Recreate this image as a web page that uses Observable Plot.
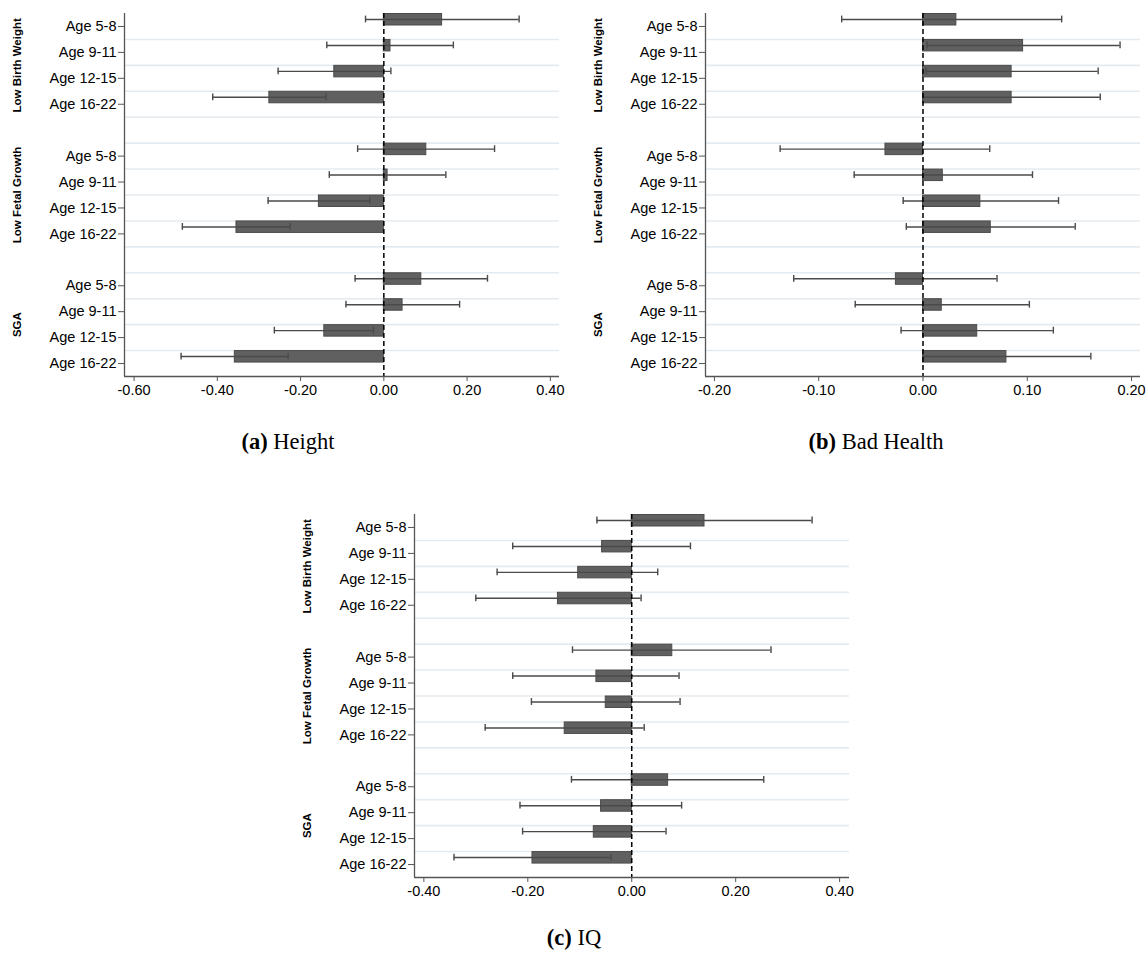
<!DOCTYPE html>
<html><head><meta charset="utf-8">
<script src="https://cdn.jsdelivr.net/npm/d3@7"></script>
<script src="https://cdn.jsdelivr.net/npm/@observablehq/plot@0.6"></script>
<style>
html,body{margin:0;padding:0;background:#fff;overflow:hidden;}
#page{position:relative;width:1148px;height:959px;overflow:hidden;background:#fff;}
.panel{position:absolute;}
.cap{position:absolute;width:400px;text-align:center;font-family:"Liberation Serif","Times New Roman",serif;font-size:22.5px;line-height:24px;color:#000;}
</style></head><body>
<div id="page">
<div class="panel" id="pa" style="left:0px;top:0px"></div>
<div class="panel" id="pb" style="left:581px;top:0px"></div>
<div class="panel" id="pc" style="left:290px;top:501px"></div>
<div class="cap" style="left:88px;top:430px"><b>(a)</b> Height</div>
<div class="cap" style="left:676px;top:430px"><b>(b)</b> Bad Health</div>
<div class="cap" style="left:374px;top:926px"><b>(c)</b> IQ</div>
</div>
<script>
// ---- data ----
const groups = ["Low Birth Weight", "Low Fetal Growth", "SGA"];
const ages = ["Age 5-8", "Age 9-11", "Age 12-15", "Age 16-22"];

// (a) Height
const heightCoef = [0.140, 0.016, -0.119, -0.275, 0.102, 0.009, -0.156, -0.354, 0.090, 0.045, -0.143, -0.358];
const heightLo   = [-0.044, -0.137, -0.254, -0.411, -0.063, -0.131, -0.278, -0.484, -0.069, -0.091, -0.263, -0.487];
const heightHi   = [0.325, 0.167, 0.017, -0.139, 0.266, 0.149, -0.034, -0.225, 0.249, 0.182, -0.025, -0.230];

// (b) Bad Health
const healthCoef = [0.032, 0.096, 0.085, 0.085, -0.036, 0.019, 0.055, 0.065, -0.026, 0.018, 0.052, 0.080];
const healthLo   = [-0.078, 0.004, 0.003, 0.000, -0.137, -0.066, -0.019, -0.016, -0.124, -0.065, -0.021, 0.000];
const healthHi   = [0.133, 0.189, 0.168, 0.170, 0.064, 0.105, 0.130, 0.146, 0.071, 0.102, 0.125, 0.161];

// (c) IQ
const iqCoef = [0.140, -0.057, -0.103, -0.142, 0.078, -0.068, -0.050, -0.129, 0.070, -0.059, -0.073, -0.191];
const iqLo   = [-0.067, -0.229, -0.259, -0.300, -0.114, -0.229, -0.193, -0.282, -0.116, -0.215, -0.210, -0.342];
const iqHi   = [0.347, 0.113, 0.050, 0.018, 0.268, 0.091, 0.093, 0.024, 0.254, 0.096, 0.066, -0.040];

const heightTicks = [-0.6, -0.4, -0.2, 0, 0.2, 0.4];
const healthTicks = [-0.2, -0.1, 0, 0.1, 0.2];
const iqTicks = [-0.4, -0.2, 0, 0.2, 0.4];

// ---- layout constants ----
const MT = 13, PH = 363, MB = 30, ML = 124, PW = 435;

// slot domain (4 ages per group, with a blank slot between groups)
const labelKeys = [];
const slots = [];
groups.forEach((g, gi) => {
  ages.forEach(a => { const k = g + "|" + a; labelKeys.push(k); slots.push(k); });
  if (gi < groups.length - 1) slots.push("gap" + gi);
});
const bw = PH / slots.length;

function rowsOf(coef, lo, hi) {
  const out = [];
  groups.forEach((g, gi) => ages.forEach((a, ai) => {
    const i = gi * ages.length + ai;
    out.push({key: g + "|" + a, coef: coef[i], lo: lo[i], hi: hi[i]});
  }));
  return out;
}

function panel(coef, lo, hi, xDomain, xTicks, marginRight) {
  const rows = rowsOf(coef, lo, hi);
  const errColor = "#4a4a4a";
  return Plot.plot({
    width: ML + PW + marginRight,
    height: MT + PH + MB,
    marginTop: MT, marginBottom: MB, marginLeft: ML, marginRight: marginRight,
    x: {domain: xDomain, axis: null},
    y: {type: "band", domain: slots, padding: 0, round: false, axis: null},
    style: {fontFamily: "'Liberation Sans', Arial, sans-serif", fontSize: "14.5px", background: "white", color: "black", overflow: "visible"},
    marks: [
      Plot.ruleY(slots.slice(1), {dy: -bw / 2, stroke: "#e4ebf0", strokeWidth: 1.6}),
      Plot.barX(rows, {x: "coef", y: "key", insetTop: 0.5, insetBottom: bw - 12, fill: "#606060", stroke: "#4b4b4b", strokeWidth: 1}),
      Plot.ruleY(rows, {y: "key", x1: "lo", x2: "hi", dy: 6 - bw / 2, stroke: errColor, strokeWidth: 1.4}),
      Plot.tickX(rows, {x: "lo", y: "key", insetTop: 2.6, insetBottom: bw - 9.4, stroke: errColor, strokeWidth: 1.4}),
      Plot.tickX(rows, {x: "hi", y: "key", insetTop: 2.6, insetBottom: bw - 9.4, stroke: errColor, strokeWidth: 1.4}),
      Plot.ruleX([0], {stroke: "black", strokeWidth: 1.5, strokeDasharray: "5,3"}),
      Plot.ruleX([xDomain[0]], {stroke: "#555", strokeWidth: 1.3}),
      Plot.ruleY([slots[slots.length - 1]], {dy: bw / 2, stroke: "#555", strokeWidth: 1.3}),
      Plot.axisX({ticks: xTicks, tickFormat: d => d.toFixed(2), tickSize: 5, tickPadding: 3, stroke: "#555", fill: "black", label: null}),
      Plot.axisY({ticks: labelKeys, tickFormat: k => k.split("|")[1], tickSize: 6, tickPadding: 2, stroke: "#555", fill: "black", label: null}),
      Plot.text(groups, {text: d => d, y: d => d + "|" + ages[2], dy: -bw / 2, frameAnchor: "left", dx: -107, rotate: -90, textAnchor: "middle", fontWeight: "bold", fontSize: 11.5, fill: "black"})
    ]
  });
}

document.getElementById("pa").append(panel(heightCoef, heightLo, heightHi, [-0.623, 0.422], heightTicks, 12));
document.getElementById("pb").append(panel(healthCoef, healthLo, healthHi, [-0.2086, 0.2086], healthTicks, 8));
document.getElementById("pc").append(panel(iqCoef, iqLo, iqHi, [-0.418, 0.419], iqTicks, 12));
</script>
</body></html>
